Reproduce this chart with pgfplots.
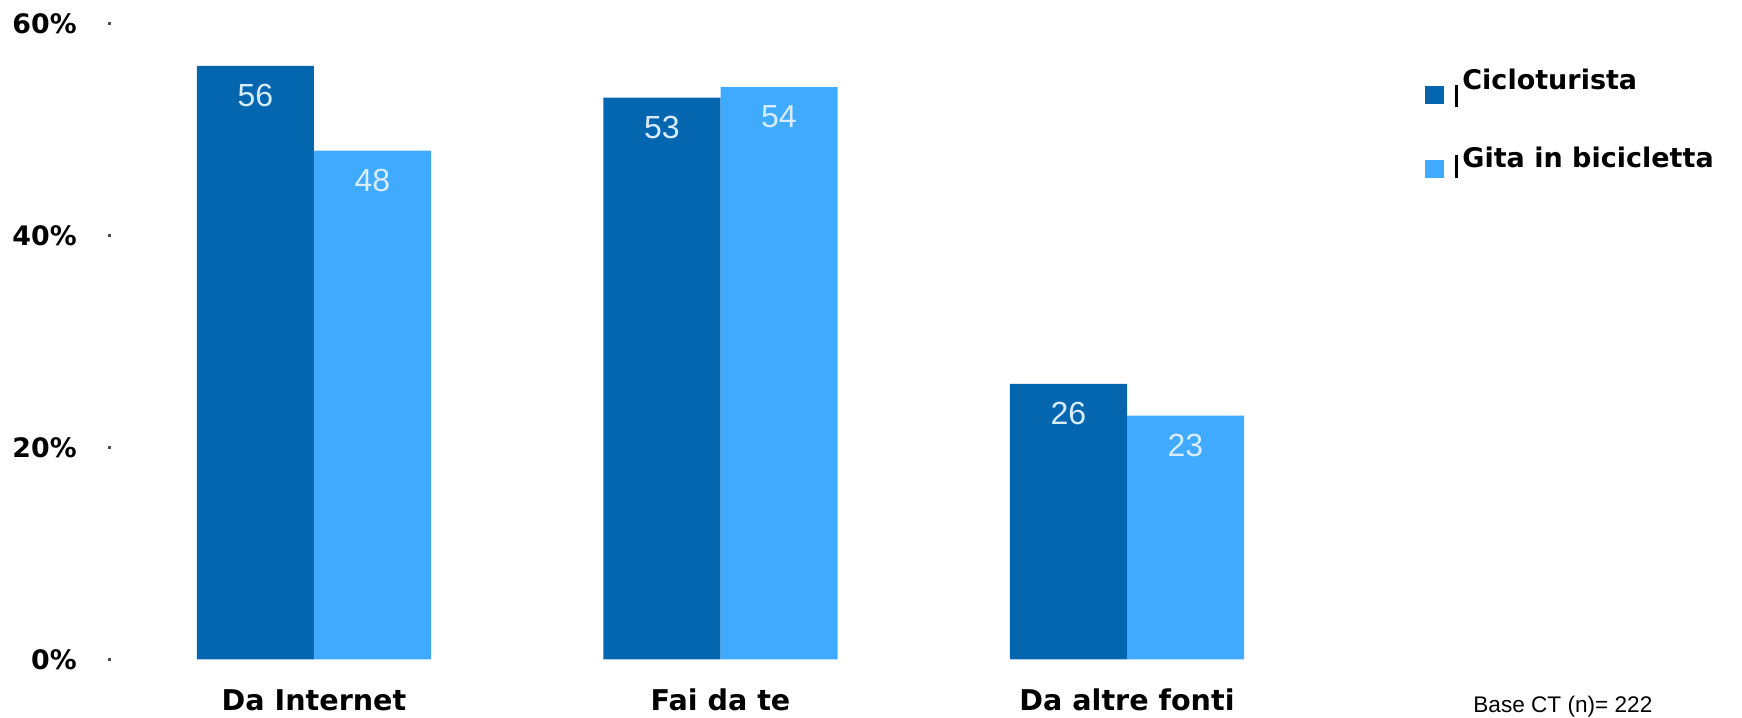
\documentclass[border=0pt]{standalone}
\usepackage{pgfplots}
\pgfplotsset{compat=1.18}
\usepackage{fontspec}
\setmainfont{Liberation Sans}
\newfontfamily\dvb{DejaVu Sans}[BoldFont={DejaVu Sans Bold}]
\definecolor{darkb}{RGB}{5,102,176}
\definecolor{lightb}{RGB}{64,170,255}
\definecolor{vallab}{RGB}{216,236,255}
\begin{document}
\begin{tikzpicture}
\useasboundingbox (0,0) rectangle (871pt,359pt);
\begin{axis}[
  at={(55.375pt,29.25pt)}, anchor=south west,
  scale only axis,
  width=609.75pt, height=318pt,
  xmin=-0.5, xmax=2.5,
  ymin=0, ymax=60,
  ybar=0pt, bar width=58.5pt,
  /pgf/number format/assume math mode=true,
  axis line style={draw=none},
  xtick={0,1,2},
  xticklabels={Da Internet, Fai da te, Da altre fonti},
  xtick style={draw=none},
  xticklabel style={anchor=base, inner sep=0pt, text depth=0pt, yshift=-24.25pt,
    font=\dvb\bfseries\fontsize{14.3}{17}\selectfont},
  ytick={0,20,40,60},
  yticklabel={\pgfmathprintnumber{\tick}\%},
  yticklabel style={anchor=east, inner sep=0pt, xshift=-15.375pt,
    font=\dvb\bfseries\fontsize{13.4}{16}\selectfont},
  ytick pos=left, tick align=outside, major tick length=1.5pt,
  ytick style={line width=1.5pt, draw=black!70},
  nodes near coords={\pgfmathprintnumber{\pgfplotspointmeta}},
  every node near coord/.append style={anchor=center, yshift=-15pt,
    text=vallab, font=\fontsize{16}{19}\selectfont},
  clip=false,
]
\addplot[fill=darkb, draw=none] coordinates {(0,56) (1,53) (2,26)};
\addplot[fill=lightb, draw=none] coordinates {(0,48) (1,54) (2,23)};
\end{axis}
% legend
\fill[darkb] (712.5pt,307pt) rectangle (722pt,316pt);
\fill[black] (727.5pt,305.5pt) rectangle (729.2pt,316.5pt);
\node[anchor=base west, inner sep=0pt, font=\dvb\bfseries\fontsize{13.5}{16}\selectfont] at (731pt,314pt) {Cicloturista};
\fill[lightb] (712.5pt,270pt) rectangle (722pt,279pt);
\fill[black] (727.5pt,270pt) rectangle (729.2pt,281.5pt);
\node[anchor=base west, inner sep=0pt, font=\dvb\bfseries\fontsize{13.5}{16}\selectfont] at (731pt,275pt) {Gita in bicicletta};
\node[anchor=base west, inner sep=0pt, text depth=0pt, font=\fontsize{11.3}{13}\selectfont] at (736.5pt,2.5pt) {Base CT (n)= 222};
\end{tikzpicture}
\end{document}
